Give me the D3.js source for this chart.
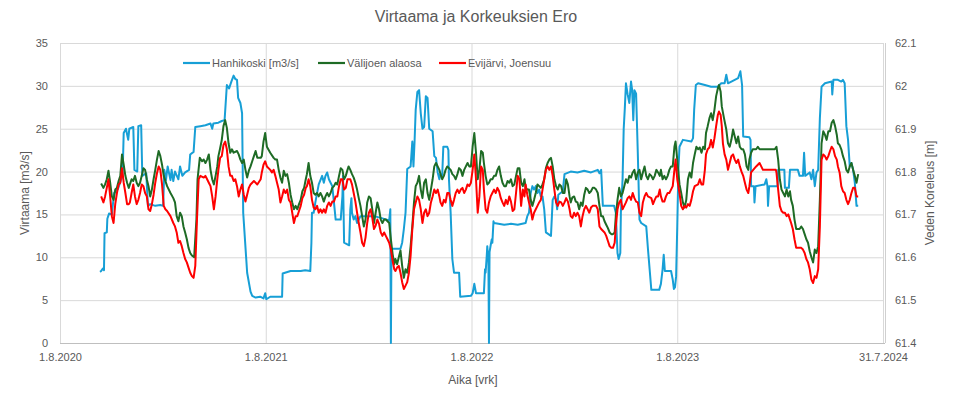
<!DOCTYPE html>
<html>
<head>
<meta charset="utf-8">
<script src="https://cdn.jsdelivr.net/npm/d3@7"></script>
<style>
  body { margin: 0; background: #fff; }
  text { font-family: "Liberation Sans", Arial, sans-serif; fill: #595959; }
</style>
</head>
<body>
<svg id="chart" width="954" height="398"></svg>
<script>
// days counted from 1.8.2020
const startDay = "2020-08-01"
const tickDates = ["2020-08-01", "2021-08-01", "2022-08-01", "2023-08-01", "2024-07-31"]
const flowTicks = [0, 5, 10, 15, 20, 25, 30, 35]
const levelTicks = [61.4, 61.5, 61.6, 61.7, 61.8, 61.9, 62.0, 62.1]

const seriesNames = ["Hanhikoski [m3/s]", "Välijoen alaosa", "Evijärvi, Joensuu"]
const seriesColors = ["#179fd6", "#1e6b25", "#ff0000"]

// Hanhikoski flow [day, m3/s]
const hanhikoski = [[71,8.3],[73,8.4],[76,8.7],[78,8.5],[79,12.8],[83,12.9],[84,14.5],[87,15.1],[92,15.0],[96,17.5],[103,18],[108,19],[111,19.5],[113,24.5],[117,25],[121,23.7],[123,25],[130,25.2],[132,20.2],[137,20],[139,25.3],[144,25.4],[146,19.5],[153,19.8],[156,16.0],[160,16.2],[169,16.0],[178,16.1],[183,16.0],[185,20.2],[188,19.0],[191,20.6],[196,19],[198,20.2],[201,18.9],[204,20],[210,19.1],[213,20.6],[217,19.5],[222,19.9],[229,20.2],[231,22],[237,22.3],[240,25.2],[249,25.3],[258,25.4],[267,25.6],[270,25.0],[272,25.6],[281,25.7],[287,25.9],[292,26],[296,30.1],[300,29.7],[304,30.5],[308,31.2],[311,30.8],[314,30.7],[316,28.6],[320,28],[323,26.8],[325,15.2],[332,8.2],[338,6.0],[341,5.5],[347,5.3],[355,5.4],[361,5.2],[364,5.8],[366,5.1],[373,5.4],[394,5.4],[395,8.1],[409,8.4],[427,8.4],[435,8.5],[444,8.4],[446,11.7],[447,15.2],[450,15.2],[453,16.4],[459,18.5],[465,19.5],[468,18.7],[471,19.5],[474,19.9],[477,19.1],[480,18.7],[483,18.3],[486,16.4],[489,14.4],[498,14.4],[501,17.1],[502,19.5],[504,11.7],[513,11.4],[515,15.6],[517,16.9],[518,15.2],[521,14.4],[524,14.8],[527,14.0],[533,14.8],[545,14.8],[557,14.8],[569,14.6],[584,14.3],[586,15.6],[587,0],[588,11.0],[604,11.0],[607,11.7],[610,13.3],[613,15.2],[616,20.3],[622,20.6],[625,23.5],[627,20.6],[629,23.5],[631,27.2],[634,29.3],[637,29.5],[640,26.8],[643,25],[646,25.2],[649,28.8],[652,28.6],[655,25],[661,24.7],[664,21.8],[667,21.6],[670,19.9],[673,19.1],[675,19.7],[678,19.5],[680,22.9],[687,22.9],[689,22.5],[690,19.1],[693,15.2],[696,9.8],[699,8.2],[708,8.2],[710,5.4],[729,5.5],[732,5.8],[735,6.9],[738,5.8],[752,5.8],[754,8.6],[755,8.2],[757,10.1],[758,11.3],[760,9.5],[761,0],[762,10.6],[764,11.4],[766,12.1],[767,11.7],[769,14.2],[770,14.0],[788,13.8],[800,13.9],[812,13.8],[826,14.0],[829,14.8],[832,15.2],[835,17.5],[838,18.3],[841,17.9],[844,18.3],[847,17.5],[850,17.9],[853,17.1],[856,17.1],[859,15.6],[862,12.9],[871,12.5],[874,16.7],[877,17.1],[880,16.7],[882,15.6],[884,17.3],[892,17.7],[895,19.7],[906,20.0],[918,19.9],[930,20.1],[942,19.9],[954,20.2],[957,19.8],[960,20.2],[963,16.0],[983,16.0],[986,15.2],[989,10.5],[991,9.8],[994,10.5],[995,15.2],[998,19.1],[1000,25],[1002,27.4],[1004,30.3],[1007,29],[1010,28],[1013,30.5],[1015,29.5],[1017,26],[1019,29.5],[1022,29.1],[1025,22.2],[1028,14.4],[1031,14.0],[1040,13.6],[1043,11.0],[1046,8.6],[1049,6.2],[1063,6.2],[1066,6.9],[1069,8.6],[1071,10.3],[1073,8.4],[1084,8.4],[1087,7.4],[1089,6.3],[1091,6.5],[1093,7.8],[1095,13.6],[1097,20.2],[1099,22.9],[1102,23.3],[1105,23.7],[1120,23.5],[1123,23.9],[1125,27.2],[1128,30.1],[1132,30.3],[1144,30.1],[1155,29.9],[1167,29.9],[1173,30.3],[1179,30.3],[1182,31.3],[1185,30.3],[1191,30.5],[1197,30.7],[1203,30.9],[1207,31.7],[1210,30.1],[1212,24.1],[1223,24.0],[1225,23.7],[1226,18.3],[1231,18.3],[1232,16.4],[1234,18.3],[1250,18.5],[1253,19.1],[1255,18.3],[1256,16.0],[1258,18.3],[1273,18.3],[1274,20.2],[1285,20.2],[1286,18.1],[1293,18.1],[1295,20.2],[1309,20.2],[1312,19.5],[1318,19.5],[1320,22.2],[1322,19.5],[1330,19.9],[1333,19.1],[1336,20.2],[1339,18.3],[1342,19.9],[1345,20.2],[1348,26.2],[1351,29.9],[1357,30.3],[1369,30.5],[1370,29.0],[1372,30.7],[1380,30.7],[1386,30.5],[1389,30.7],[1392,30.3],[1395,25.3],[1398,23.7],[1401,20.6],[1404,21.0],[1407,20.2],[1410,18.7],[1413,16.0],[1416,16.0]]

// Välijoen alaosa water level [day, m]
const valijoki = [[73,61.772],[77,61.762],[80,61.770],[83,61.782],[86,61.802],[89,61.774],[92,61.742],[95,61.734],[98,61.758],[101,61.762],[104,61.778],[107,61.790],[110,61.840],[113,61.816],[116,61.790],[119,61.774],[122,61.762],[124,61.770],[127,61.782],[130,61.778],[133,61.790],[136,61.774],[139,61.766],[142,61.774],[145,61.790],[148,61.808],[151,61.804],[154,61.782],[157,61.766],[160,61.742],[163,61.758],[166,61.782],[169,61.804],[172,61.828],[175,61.848],[178,61.836],[181,61.816],[184,61.790],[190,61.766],[196,61.750],[201,61.738],[204,61.728],[207,61.696],[210,61.684],[213,61.704],[216,61.696],[219,61.672],[222,61.658],[225,61.642],[228,61.622],[231,61.610],[234,61.604],[238,61.600],[242,61.688],[244,61.782],[248,61.832],[252,61.824],[255,61.828],[258,61.820],[261,61.828],[264,61.840],[267,61.804],[270,61.782],[273,61.770],[276,61.790],[279,61.812],[281,61.836],[284,61.854],[287,61.874],[290,61.906],[293,61.920],[296,61.902],[299,61.866],[302,61.844],[305,61.852],[308,61.844],[314,61.848],[317,61.840],[320,61.828],[323,61.820],[326,61.828],[329,61.804],[332,61.786],[335,61.802],[338,61.812],[341,61.824],[344,61.836],[347,61.848],[350,61.832],[356,61.832],[358,61.836],[361,61.870],[364,61.890],[367,61.858],[373,61.844],[379,61.832],[382,61.828],[385,61.828],[388,61.804],[391,61.786],[394,61.774],[397,61.802],[400,61.790],[403,61.794],[406,61.774],[409,61.746],[412,61.728],[415,61.712],[418,61.720],[421,61.712],[424,61.724],[427,61.734],[430,61.754],[433,61.762],[436,61.782],[438,61.794],[441,61.820],[444,61.790],[447,61.774],[450,61.750],[453,61.746],[456,61.750],[459,61.742],[462,61.750],[465,61.742],[468,61.730],[471,61.742],[474,61.750],[477,61.742],[480,61.750],[483,61.762],[486,61.766],[489,61.774],[492,61.770],[495,61.790],[498,61.808],[501,61.804],[504,61.782],[507,61.790],[510,61.804],[512,61.812],[515,61.804],[518,61.794],[521,61.786],[524,61.774],[527,61.758],[530,61.738],[533,61.720],[536,61.696],[539,61.672],[542,61.688],[545,61.728],[548,61.742],[551,61.738],[554,61.712],[557,61.680],[560,61.704],[563,61.728],[566,61.712],[569,61.688],[572,61.680],[575,61.688],[578,61.688],[581,61.684],[584,61.680],[587,61.642],[590,61.608],[593,61.584],[595,61.596],[598,61.584],[601,61.600],[604,61.616],[607,61.580],[610,61.552],[613,61.572],[616,61.564],[619,61.588],[622,61.626],[625,61.672],[628,61.728],[631,61.766],[634,61.774],[637,61.790],[640,61.758],[643,61.738],[646,61.774],[649,61.782],[652,61.750],[655,61.734],[658,61.758],[661,61.782],[664,61.812],[667,61.820],[670,61.812],[673,61.804],[675,61.794],[678,61.782],[681,61.790],[684,61.804],[687,61.812],[690,61.808],[693,61.804],[696,61.794],[699,61.790],[702,61.782],[705,61.794],[708,61.808],[711,61.804],[714,61.790],[717,61.804],[720,61.812],[723,61.820],[726,61.812],[729,61.812],[732,61.858],[735,61.890],[738,61.844],[741,61.782],[744,61.804],[747,61.848],[750,61.844],[752,61.820],[755,61.790],[758,61.770],[761,61.774],[764,61.782],[767,61.782],[770,61.790],[773,61.790],[776,61.804],[779,61.812],[782,61.790],[785,61.774],[788,61.766],[791,61.766],[794,61.778],[797,61.774],[800,61.782],[803,61.766],[806,61.770],[809,61.790],[812,61.808],[815,61.808],[818,61.774],[821,61.766],[824,61.782],[826,61.762],[829,61.758],[832,61.758],[835,61.734],[838,61.720],[841,61.734],[844,61.750],[847,61.770],[850,61.766],[853,61.762],[856,61.770],[859,61.782],[862,61.808],[865,61.820],[868,61.828],[871,61.832],[874,61.812],[877,61.782],[880,61.766],[883,61.758],[886,61.770],[889,61.766],[892,61.750],[895,61.750],[898,61.782],[901,61.770],[904,61.742],[906,61.728],[909,61.740],[912,61.742],[915,61.730],[918,61.728],[921,61.712],[924,61.728],[927,61.720],[930,61.746],[933,61.762],[936,61.758],[939,61.750],[942,61.754],[945,61.762],[948,61.762],[951,61.758],[954,61.750],[957,61.720],[960,61.696],[963,61.696],[966,61.684],[969,61.676],[972,61.668],[975,61.658],[978,61.654],[981,61.654],[984,61.658],[986,61.696],[989,61.734],[992,61.762],[995,61.742],[998,61.750],[1001,61.766],[1004,61.782],[1007,61.774],[1010,61.790],[1013,61.786],[1016,61.798],[1019,61.804],[1022,61.782],[1025,61.798],[1028,61.804],[1031,61.782],[1034,61.798],[1037,61.812],[1040,61.790],[1043,61.782],[1046,61.794],[1049,61.790],[1052,61.782],[1055,61.790],[1058,61.804],[1061,61.798],[1064,61.790],[1066,61.804],[1069,61.782],[1072,61.790],[1075,61.782],[1078,61.790],[1081,61.804],[1084,61.812],[1087,61.812],[1090,61.858],[1092,61.870],[1095,61.828],[1099,61.770],[1102,61.750],[1105,61.728],[1108,61.716],[1111,61.734],[1114,61.782],[1117,61.798],[1120,61.786],[1123,61.820],[1126,61.840],[1129,61.858],[1132,61.852],[1135,61.856],[1138,61.844],[1141,61.858],[1144,61.852],[1146,61.890],[1149,61.906],[1152,61.924],[1155,61.936],[1158,61.920],[1161,61.944],[1164,61.976],[1167,61.994],[1169,62.002],[1172,61.986],[1174,61.952],[1178,61.924],[1182,61.898],[1185,61.866],[1188,61.858],[1191,61.874],[1194,61.898],[1197,61.882],[1200,61.866],[1203,61.882],[1206,61.858],[1209,61.852],[1212,61.852],[1215,61.840],[1218,61.812],[1221,61.804],[1223,61.828],[1226,61.844],[1229,61.852],[1235,61.852],[1238,61.858],[1241,61.852],[1250,61.852],[1262,61.852],[1268,61.852],[1271,61.858],[1274,61.828],[1277,61.782],[1280,61.758],[1283,61.750],[1286,61.742],[1289,61.758],[1292,61.742],[1295,61.754],[1297,61.734],[1300,61.720],[1303,61.688],[1306,61.666],[1312,61.666],[1315,61.672],[1318,61.666],[1321,61.654],[1324,61.642],[1327,61.634],[1330,61.614],[1333,61.600],[1336,61.588],[1339,61.618],[1342,61.610],[1345,61.626],[1348,61.734],[1351,61.866],[1354,61.894],[1357,61.886],[1360,61.874],[1363,61.894],[1366,61.894],[1369,61.914],[1372,61.920],[1375,61.906],[1378,61.886],[1380,61.866],[1383,61.862],[1386,61.852],[1389,61.836],[1392,61.824],[1395,61.804],[1398,61.798],[1401,61.812],[1404,61.820],[1407,61.804],[1410,61.790],[1413,61.774],[1416,61.794]]

// Evijärvi, Joensuu water level [day, m]
const evijarvi = [[73,61.742],[77,61.728],[80,61.742],[83,61.762],[86,61.782],[89,61.742],[92,61.696],[95,61.680],[98,61.724],[101,61.750],[104,61.770],[107,61.774],[110,61.808],[113,61.774],[116,61.750],[119,61.724],[122,61.724],[124,61.728],[127,61.750],[130,61.770],[133,61.742],[136,61.724],[139,61.734],[142,61.750],[145,61.770],[148,61.766],[151,61.750],[154,61.742],[157,61.712],[160,61.708],[163,61.724],[166,61.746],[169,61.774],[172,61.796],[175,61.812],[178,61.804],[181,61.770],[184,61.720],[187,61.712],[190,61.708],[196,61.696],[201,61.680],[204,61.672],[207,61.658],[210,61.634],[213,61.638],[216,61.626],[219,61.610],[222,61.596],[225,61.588],[228,61.576],[231,61.564],[234,61.556],[237,61.552],[240,61.580],[243,61.688],[246,61.782],[249,61.790],[255,61.786],[258,61.790],[261,61.782],[264,61.774],[267,61.766],[270,61.742],[273,61.712],[276,61.742],[279,61.782],[281,61.804],[284,61.832],[287,61.836],[290,61.862],[293,61.870],[296,61.852],[299,61.812],[302,61.790],[305,61.790],[308,61.778],[311,61.782],[314,61.766],[317,61.742],[320,61.758],[323,61.770],[326,61.746],[329,61.730],[332,61.746],[335,61.762],[338,61.770],[341,61.774],[344,61.778],[350,61.770],[356,61.782],[358,61.798],[361,61.816],[364,61.824],[367,61.812],[373,61.804],[376,61.798],[379,61.804],[382,61.790],[385,61.774],[388,61.758],[391,61.728],[394,61.742],[397,61.758],[400,61.750],[403,61.758],[406,61.734],[409,61.728],[412,61.704],[415,61.680],[418,61.696],[421,61.696],[424,61.708],[427,61.720],[430,61.738],[433,61.746],[436,61.762],[438,61.766],[441,61.782],[444,61.766],[447,61.734],[450,61.716],[453,61.712],[456,61.720],[459,61.704],[462,61.712],[465,61.704],[468,61.712],[471,61.704],[474,61.720],[477,61.728],[480,61.720],[483,61.730],[486,61.730],[489,61.742],[492,61.742],[495,61.766],[498,61.782],[501,61.782],[504,61.758],[507,61.762],[510,61.782],[515,61.782],[518,61.770],[521,61.750],[524,61.730],[527,61.704],[530,61.680],[533,61.658],[536,61.634],[539,61.626],[542,61.646],[545,61.680],[548,61.704],[551,61.712],[554,61.692],[557,61.666],[560,61.674],[563,61.688],[566,61.678],[569,61.658],[572,61.650],[575,61.658],[578,61.650],[581,61.642],[584,61.634],[587,61.618],[590,61.592],[593,61.572],[595,61.568],[598,61.576],[601,61.580],[604,61.564],[607,61.542],[610,61.526],[613,61.534],[616,61.542],[619,61.564],[622,61.604],[625,61.666],[628,61.712],[631,61.728],[634,61.742],[637,61.734],[640,61.712],[643,61.680],[646,61.704],[649,61.712],[652,61.696],[655,61.704],[658,61.728],[661,61.742],[664,61.758],[667,61.750],[670,61.758],[673,61.742],[675,61.728],[678,61.720],[681,61.734],[684,61.728],[687,61.750],[690,61.750],[693,61.734],[696,61.720],[699,61.734],[702,61.750],[705,61.758],[708,61.750],[711,61.758],[714,61.762],[717,61.750],[720,61.758],[723,61.770],[726,61.766],[729,61.774],[732,61.804],[735,61.840],[738,61.782],[741,61.704],[744,61.742],[747,61.812],[750,61.804],[752,61.758],[755,61.712],[758,61.704],[761,61.728],[764,61.742],[767,61.750],[770,61.758],[773,61.750],[776,61.762],[779,61.754],[782,61.738],[785,61.728],[788,61.720],[791,61.734],[794,61.724],[797,61.742],[800,61.730],[803,61.708],[806,61.712],[809,61.750],[812,61.790],[815,61.782],[818,61.720],[821,61.758],[824,61.742],[826,61.770],[829,61.746],[832,61.728],[835,61.712],[838,61.688],[841,61.704],[844,61.712],[847,61.720],[850,61.728],[853,61.734],[856,61.758],[859,61.782],[862,61.804],[865,61.812],[868,61.804],[871,61.812],[874,61.790],[877,61.758],[880,61.728],[883,61.720],[886,61.730],[889,61.728],[892,61.720],[895,61.728],[898,61.738],[901,61.730],[904,61.712],[906,61.696],[909,61.692],[912,61.704],[915,61.696],[918,61.704],[921,61.696],[924,61.672],[927,61.696],[930,61.712],[933,61.720],[936,61.712],[939,61.704],[942,61.716],[945,61.720],[951,61.720],[954,61.712],[957,61.672],[960,61.666],[963,61.662],[966,61.658],[969,61.650],[972,61.638],[975,61.626],[978,61.622],[981,61.622],[984,61.634],[986,61.672],[989,61.712],[992,61.728],[995,61.734],[998,61.712],[1001,61.720],[1004,61.728],[1007,61.738],[1010,61.742],[1013,61.734],[1016,61.750],[1019,61.738],[1022,61.730],[1025,61.728],[1028,61.704],[1031,61.696],[1034,61.728],[1037,61.742],[1040,61.750],[1043,61.742],[1049,61.738],[1052,61.724],[1055,61.734],[1058,61.742],[1061,61.742],[1064,61.758],[1066,61.742],[1069,61.730],[1072,61.730],[1075,61.742],[1078,61.750],[1081,61.750],[1084,61.758],[1087,61.766],[1090,61.804],[1092,61.828],[1095,61.782],[1099,61.750],[1102,61.720],[1105,61.712],[1108,61.720],[1111,61.716],[1114,61.724],[1117,61.720],[1120,61.734],[1123,61.754],[1126,61.766],[1132,61.770],[1135,61.782],[1138,61.770],[1141,61.770],[1144,61.804],[1146,61.840],[1149,61.852],[1152,61.856],[1155,61.874],[1158,61.856],[1161,61.878],[1164,61.906],[1167,61.932],[1169,61.940],[1172,61.932],[1174,61.906],[1176,61.866],[1179,61.840],[1182,61.828],[1185,61.804],[1188,61.820],[1191,61.836],[1194,61.840],[1197,61.828],[1200,61.820],[1203,61.828],[1206,61.812],[1209,61.800],[1212,61.790],[1215,61.774],[1218,61.758],[1221,61.750],[1223,61.766],[1226,61.798],[1235,61.812],[1241,61.820],[1244,61.812],[1247,61.804],[1270,61.804],[1271,61.798],[1274,61.758],[1277,61.720],[1280,61.708],[1283,61.704],[1286,61.704],[1289,61.696],[1292,61.700],[1295,61.688],[1297,61.680],[1300,61.666],[1303,61.642],[1306,61.622],[1315,61.622],[1318,61.618],[1321,61.610],[1324,61.596],[1327,61.588],[1330,61.572],[1333,61.548],[1336,61.540],[1339,61.556],[1342,61.552],[1345,61.572],[1348,61.672],[1351,61.828],[1354,61.840],[1357,61.836],[1360,61.828],[1363,61.836],[1366,61.848],[1369,61.858],[1372,61.852],[1375,61.836],[1378,61.828],[1380,61.812],[1383,61.798],[1386,61.766],[1389,61.754],[1392,61.750],[1395,61.734],[1398,61.724],[1401,61.734],[1404,61.750],[1407,61.762],[1410,61.762],[1413,61.742],[1416,61.742]]

const svg = d3.select("#chart")
const margin = { top: 43, right: 71, bottom: 55, left: 60 }
const width = 954, height = 398
const plotRight = 883
const plotBottom = height - margin.bottom

const parseDate = d3.timeParse("%Y-%m-%d")
const start = parseDate(startDay)
const toDate = d => d3.timeDay.offset(start, d)

const x = d3.scaleTime()
  .domain([parseDate(tickDates[0]), parseDate(tickDates[tickDates.length - 1])])
  .range([margin.left, plotRight])
const yFlow = d3.scaleLinear().domain([0, 35]).range([plotBottom, margin.top])
const yLevel = d3.scaleLinear().domain([61.4, 62.1]).range([plotBottom, margin.top])

// horizontal gridlines + left labels
const leftAxis = svg.append("g")
  .attr("transform", "translate(" + margin.left + ",0)")
  .call(d3.axisLeft(yFlow).tickValues(flowTicks).tickSize(-(plotRight - margin.left)).tickPadding(12))
leftAxis.select(".domain").remove()
leftAxis.selectAll("line").attr("stroke", "#d9d9d9")
leftAxis.selectAll("text").style("font-size", "11px")

// vertical gridlines + date labels
const bottomAxis = svg.append("g")
  .attr("transform", "translate(0," + plotBottom + ")")
  .call(d3.axisBottom(x)
    .tickValues(tickDates.map(parseDate))
    .tickFormat(d3.timeFormat("%-d.%-m.%Y"))
    .tickSize(-(plotBottom - margin.top))
    .tickPadding(10))
bottomAxis.select(".domain").remove()
bottomAxis.selectAll("line").attr("stroke", "#d9d9d9")
bottomAxis.selectAll("text").style("font-size", "11px")

// right axis labels
const rightAxis = svg.append("g")
  .attr("transform", "translate(" + plotRight + ",0)")
  .call(d3.axisRight(yLevel).tickValues(levelTicks).tickSize(0).tickPadding(12)
    .tickFormat(d => String(+d.toFixed(1))))
rightAxis.select(".domain").remove()
rightAxis.selectAll("text").style("font-size", "11px")

// plot frame lines
svg.append("line")
  .attr("x1", margin.left).attr("x2", plotRight + 2)
  .attr("y1", plotBottom + 0.5).attr("y2", plotBottom + 0.5)
  .attr("stroke", "#bfbfbf")
svg.append("line")
  .attr("x1", plotRight + 2.5).attr("x2", plotRight + 2.5)
  .attr("y1", margin.top).attr("y2", plotBottom)
  .attr("stroke", "#d0d0d0")

// series
const flowLine = d3.line()
  .x(d => x(toDate(d[0])))
  .y(d => yFlow(d[1]))
const levelLine = d3.line()
  .x(d => x(toDate(d[0])))
  .y(d => yLevel(d[1]))

const series = [
  { data: hanhikoski, line: flowLine },
  { data: valijoki, line: levelLine },
  { data: evijarvi, line: levelLine }
]
series.forEach((s, i) => {
  svg.append("path")
    .datum(s.data)
    .attr("fill", "none")
    .attr("stroke", seriesColors[i])
    .attr("stroke-width", 2)
    .attr("stroke-linejoin", "round")
    .attr("d", s.line)
})

// legend
const legendX = [183, 318, 439]
const legend = svg.append("g").attr("transform", "translate(0,63)")
seriesNames.forEach((name, i) => {
  legend.append("line")
    .attr("x1", legendX[i]).attr("x2", legendX[i] + 27)
    .attr("y1", 0).attr("y2", 0)
    .attr("stroke", seriesColors[i]).attr("stroke-width", 2.2)
  legend.append("text")
    .attr("x", legendX[i] + 29).attr("y", 0).attr("dy", "0.35em")
    .style("font-size", "11px")
    .text(name)
})

// titles
svg.append("text")
  .attr("x", 476).attr("y", 22)
  .attr("text-anchor", "middle")
  .style("font-size", "16px")
  .text("Virtaama ja Korkeuksien Ero")

svg.append("text")
  .attr("transform", "translate(25,193) rotate(-90)")
  .attr("text-anchor", "middle").attr("dy", "0.35em")
  .style("font-size", "12px")
  .text("Virtaama [m3/s]")

svg.append("text")
  .attr("transform", "translate(930,193) rotate(-90)")
  .attr("text-anchor", "middle").attr("dy", "0.35em")
  .style("font-size", "12px")
  .text("Veden Koreleus [m]")

svg.append("text")
  .attr("x", 473).attr("y", 380)
  .attr("text-anchor", "middle").attr("dy", "0.35em")
  .style("font-size", "12px")
  .text("Aika [vrk]")
</script>
</body>
</html>
